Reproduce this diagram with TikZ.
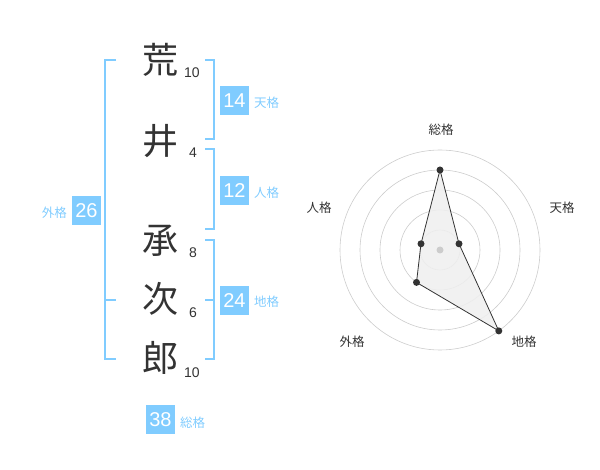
\documentclass[tikz,border=0pt]{standalone}
\usepackage{fontspec}
\setmainfont{Liberation Sans}
\newfontfamily\cjk{Noto Sans CJK JP}
\definecolor{kblue}{HTML}{80CCFF}
\definecolor{kdark}{HTML}{333333}
\definecolor{kgrid}{HTML}{CCCCCC}
\definecolor{kfill}{HTML}{EFEFEF}
\begin{document}
\begin{tikzpicture}[x=1pt,y=-1pt,
  kanji/.style={font=\cjk\fontsize{36}{36}\selectfont, text=kdark, inner sep=0pt},
  strokes/.style={font=\fontsize{14}{14}\selectfont, text=kdark, inner sep=0pt},
  brk/.style={draw=kblue, line width=2pt},
  numbox/.style={fill=kblue, text=white, minimum width=29pt, minimum height=29pt, inner sep=0pt, font=\fontsize{20}{20}\selectfont},
  kaku/.style={text=kblue, font=\cjk\fontsize{12.5}{12.5}\selectfont, inner sep=0pt},
  rlabel/.style={text=kdark, font=\cjk\fontsize{12.5}{12.5}\selectfont, inner sep=0pt},
  ring/.style={draw=kgrid, line width=0.6pt},
  dot/.style={circle, fill=kdark, inner sep=0pt, minimum size=7pt}]
\useasboundingbox (0,0) rectangle (600,470);
% kanji
\node[kanji] (k1) at (160,60) {荒};
\node[kanji] (k2) at (160,141) {井};
\node[kanji] (k3) at (160,241) {承};
\node[kanji] (k4) at (160,299) {次};
\node[kanji] (k5) at (160,358) {郎};
\node[strokes] (s1) at (192,73) {10};
\node[strokes] (s2) at (193,153) {4};
\node[strokes] (s3) at (193,253) {8};
\node[strokes] (s4) at (193,313) {6};
\node[strokes] (s5) at (192,373) {10};
% brackets
\draw[brk] (116,60) -- (105,60) -- (105,359) -- (116,359);
\draw[brk] (105,300) -- (116,300);
\draw[brk] (205,60) -- (214,60) -- (214,139) -- (205,139);
\draw[brk] (205,149) -- (214,149) -- (214,229) -- (205,229);
\draw[brk] (205,240) -- (214,240) -- (214,359) -- (205,359);
\draw[brk] (205,300) -- (214,300);
% boxes
\node[numbox] (b14) at (234.5,100.5) {14};
\node[kaku, anchor=west] (l14) at (254,103) {天格};
\node[numbox] (b12) at (234.5,190.5) {12};
\node[kaku, anchor=west] (l12) at (254,193) {人格};
\node[numbox] (b24) at (234.5,300.5) {24};
\node[kaku, anchor=west] (l24) at (254,302) {地格};
\node[numbox] (b26) at (86.5,210.5) {26};
\node[kaku, anchor=east] (l26) at (67,213) {外格};
\node[numbox] (b38) at (160.5,419.5) {38};
\node[kaku, anchor=west] (l38) at (180,423) {総格};
% radar
\coordinate (c) at (440,250);
\foreach \r in {20,40,60,80,100} \draw[ring] (c) circle (\r);
\coordinate (p1) at (440,170);
\coordinate (p2) at (459.0,243.8);
\coordinate (p3) at (498.8,330.9);
\coordinate (p4) at (416.5,282.4);
\coordinate (p5) at (421.0,243.8);
\draw[fill=kfill, fill opacity=0.85, draw=kdark, line width=0.8pt] (p1) -- (p2) -- (p3) -- (p4) -- (p5) -- cycle;
\node[circle, fill=kgrid, inner sep=0pt, minimum size=7pt] (cd) at (c) {};
\foreach \p in {p1,p2,p3,p4,p5} \node[dot] at (\p) {};
\node[rlabel] (r1) at (441,130) {総格};
\node[rlabel] (r2) at (562,208) {天格};
\node[rlabel] (r3) at (319,208) {人格};
\node[rlabel] (r4) at (352,342) {外格};
\node[rlabel] (r5) at (524,342) {地格};
\end{tikzpicture}
\end{document}
